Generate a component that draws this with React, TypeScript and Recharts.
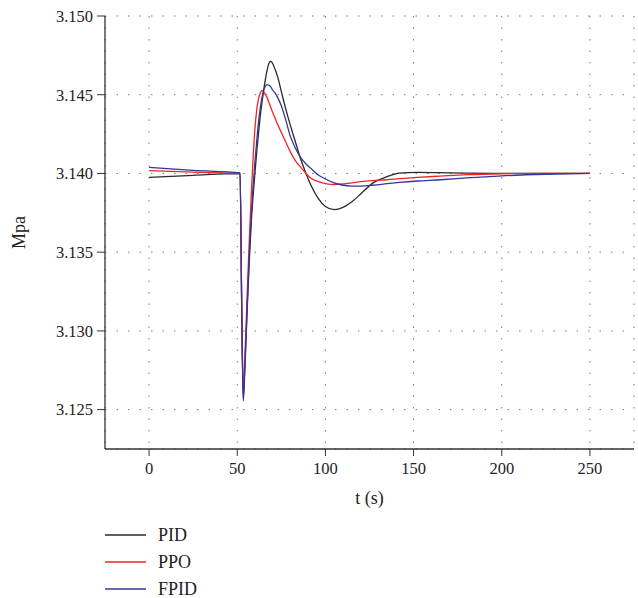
import React from 'react';
import { LineChart, Line, XAxis, YAxis, CartesianGrid, Legend, Label } from 'recharts';

// time axis (s) shared by the three controllers
const time = [0, 25, 51.6, 52.5, 53.4, 54.2, 55, 56, 57, 58, 59, 60, 61, 62, 63, 64, 65, 66, 67, 68, 69, 70, 71.5, 73, 75, 77.5, 80, 83, 86, 89, 92, 96, 100, 105, 110, 115, 120, 127, 135, 142, 152, 165, 180, 200, 225, 250];

const pid = [3.13975, 3.13988, 3.13999, 3.1318, 3.12555, 3.1272, 3.1295, 3.1323, 3.1348, 3.137, 3.1386, 3.14, 3.1413, 3.1425, 3.1436, 3.1445, 3.1453, 3.146, 3.1466, 3.147, 3.14712, 3.147, 3.1466, 3.1461, 3.1452, 3.1441, 3.1431, 3.142, 3.1409, 3.14, 3.1392, 3.1384, 3.1379, 3.1377, 3.13785, 3.1382, 3.1387, 3.1394, 3.1398, 3.14002, 3.14007, 3.14005, 3.14002, 3.14, 3.14, 3.14];

const ppo = [3.14018, 3.14008, 3.14001, 3.132, 3.126, 3.128, 3.1303, 3.1334, 3.1362, 3.1388, 3.141, 3.1428, 3.144, 3.1447, 3.1451, 3.14528, 3.1452, 3.145, 3.1448, 3.1445, 3.1442, 3.1439, 3.1435, 3.1431, 3.1426, 3.142, 3.1414, 3.1408, 3.1404, 3.14, 3.13968, 3.13948, 3.13936, 3.1393, 3.13933, 3.1394, 3.13948, 3.13955, 3.1396, 3.13967, 3.13975, 3.13983, 3.13992, 3.13998, 3.14, 3.14];

const fpid = [3.14039, 3.1402, 3.14003, 3.1319, 3.1257, 3.1275, 3.1298, 3.1327, 3.1353, 3.1374, 3.1392, 3.1407, 3.142, 3.1432, 3.1441, 3.1448, 3.1453, 3.14555, 3.14564, 3.1456, 3.1455, 3.1453, 3.1451, 3.1448, 3.1443, 3.1434, 3.1424, 3.1416, 3.141, 3.1406, 3.1403, 3.1399, 3.13965, 3.1394, 3.13925, 3.1392, 3.1392, 3.13925, 3.13935, 3.13943, 3.13952, 3.1396, 3.13972, 3.13985, 3.13995, 3.14];

const xTicks = [0, 50, 100, 150, 200, 250];
const xMinorTicks = [-25, 25, 75, 125, 175, 225, 275];
const yTicks = [3.125, 3.13, 3.135, 3.14, 3.145, 3.15];
const yMinorTicks = [3.1275, 3.1325, 3.1375, 3.1425, 3.1475];

const SERIES = [
  { key: 'PID', color: '#2a2a2a' },
  { key: 'PPO', color: '#f02525' },
  { key: 'FPID', color: '#35359a' },
];

const data = time.map((t, i) => ({ t, PID: pid[i], PPO: ppo[i], FPID: fpid[i] }));

const FONT = '"Liberation Serif", "DejaVu Serif", serif';
const AXIS = '#333';
const tickStyle = { fill: '#222', fontSize: 16.5, fontFamily: FONT };

const XTitle = ({ viewBox }: any) => (
  <text x={viewBox.x + viewBox.width / 2} y={viewBox.y + 55} textAnchor="middle" fill="#222" fontSize={18} fontFamily={FONT}>
    t (s)
  </text>
);

const YTitle = ({ viewBox }: any) => {
  const cx = 19;
  const cy = viewBox.y + viewBox.height / 2;
  return (
    <text x={cx} y={cy} transform={`rotate(-90 ${cx} ${cy})`} textAnchor="middle" dominantBaseline="central" fill="#222" fontSize={18} fontFamily={FONT}>
      Mpa
    </text>
  );
};

const LegendBox = () => (
  <svg width={160} height={80}>
    {SERIES.map((s, i) => {
      const y = 10 + i * 27;
      return (
        <g key={s.key}>
          <line x1={0} x2={41} y1={y} y2={y} stroke={s.color} strokeWidth={1.3} />
          <text x={53} y={y} dominantBaseline="central" fill="#222" fontSize={18} fontFamily={FONT}>
            {s.key}
          </text>
        </g>
      );
    })}
  </svg>
);

export default function App() {
  return (
    <div style={{ position: 'absolute', left: 0, top: 0, width: 638, height: 598, background: '#fff' }}>
      <LineChart width={638} height={598} data={data} margin={{ top: 16, right: 4, bottom: 89, left: 0 }}>
        <CartesianGrid stroke="#7a7a7a" strokeDasharray="1.5 10" />
        <XAxis
          xAxisId="minor"
          dataKey="t"
          type="number"
          domain={[-25, 275]}
          ticks={xMinorTicks}
          tickFormatter={() => ''}
          height={0}
          tickSize={4}
          axisLine={false}
          tickLine={{ stroke: AXIS }}
          allowDataOverflow
        />
        <XAxis
          dataKey="t"
          type="number"
          domain={[-25, 275]}
          ticks={xTicks}
          height={60}
          tickSize={7}
          tickMargin={6}
          tick={tickStyle}
          axisLine={{ stroke: AXIS, strokeWidth: 1.3 }}
          tickLine={{ stroke: AXIS }}
          allowDataOverflow
        >
          <Label content={XTitle} />
        </XAxis>
        <XAxis xAxisId="top" orientation="top" type="number" domain={[-25, 275]} height={0} tick={false} tickLine={false} axisLine={{ stroke: AXIS, strokeWidth: 1.3 }} />
        <YAxis
          yAxisId="minor"
          type="number"
          domain={[3.1225, 3.15]}
          ticks={yMinorTicks}
          tickFormatter={() => ''}
          width={0}
          mirror
          tickSize={4}
          axisLine={false}
          tickLine={{ stroke: AXIS }}
          allowDataOverflow
        />
        <YAxis
          type="number"
          domain={[3.1225, 3.15]}
          ticks={yTicks}
          tickFormatter={(v: number) => v.toFixed(3)}
          width={105}
          tickSize={8}
          tickMargin={4}
          tick={tickStyle}
          axisLine={{ stroke: AXIS, strokeWidth: 1.3 }}
          tickLine={{ stroke: AXIS }}
          allowDataOverflow
        >
          <Label content={YTitle} />
        </YAxis>
        <YAxis yAxisId="right" orientation="right" type="number" domain={[3.1225, 3.15]} width={0} tick={false} tickLine={false} axisLine={{ stroke: AXIS, strokeWidth: 1.3 }} />
        <Legend
          layout="vertical"
          align="center"
          verticalAlign="middle"
          wrapperStyle={{ left: 105, top: 525, width: 160 }}
          content={LegendBox}
        />
        {SERIES.map((s) => (
          <Line
            key={s.key}
            dataKey={s.key}
            type="monotone"
            stroke={s.color}
            strokeWidth={1.3}
            dot={false}
            activeDot={false}
            isAnimationActive={false}
          />
        ))}
      </LineChart>
    </div>
  );
}
